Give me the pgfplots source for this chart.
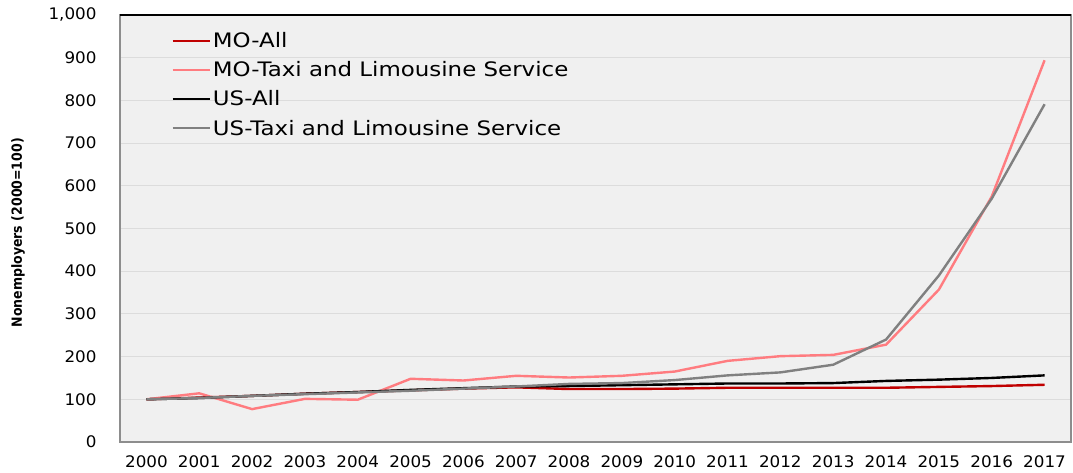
\documentclass[border=0pt]{standalone}
\usepackage{pgfplots}
\pgfplotsset{compat=1.18}
\usepackage{fontspec}
\setmainfont{DejaVu Sans}
\newfontfamily\widefont[FakeStretch=1.15]{DejaVu Sans}
\newfontfamily\tickfont[FakeStretch=1.05]{DejaVu Sans}
\newfontfamily\condfont{DejaVu Sans Condensed}
\definecolor{moall}{HTML}{C00000}
\definecolor{motaxi}{HTML}{FF7C80}
\definecolor{ustaxi}{HTML}{808080}
\definecolor{plotbg}{HTML}{F0F0F0}
\definecolor{gridc}{HTML}{DCDCDC}
\begin{document}
\begin{tikzpicture}[x=1bp,y=1bp]
\useasboundingbox (-120,-31) rectangle (953,442);
\begin{axis}[
  at={(0,0)}, anchor=south west,
  scale only axis,
  width=951bp, height=427bp,
  xmin=1999.5, xmax=2017.5,
  ymin=0, ymax=1000,
  xtick={2000,...,2017},
  ytick={0,100,...,1000},
  /pgf/number format/assume math mode=true,
  x tick label style={/pgf/number format/1000 sep={}, font=\tickfont\fontsize{16}{18}\selectfont, yshift=-10bp},
  y tick label style={/pgf/number format/1000 sep={,}, font=\tickfont\fontsize{16}{18}\selectfont, xshift=-20bp},
  major tick length=0pt,
  ymajorgrids,
  grid style={gridc, line width=1pt},
  axis background/.style={fill=plotbg},
  axis line style={ustaxi!90, line width=1.2pt},
  ylabel={\condfont\bfseries Nonemployers (2000=100)},
  every axis y label/.style={at={(rel axis cs:0,0.49)}, xshift=-102bp, rotate=90, anchor=center, font=\fontsize{14}{16}\selectfont},
  legend style={draw=none, fill=none, inner sep=0pt, at={(rel axis cs:0.054,0.964)}, anchor=north west,
    font=\widefont\fontsize{20}{22}\selectfont, row sep=8.5bp},
  legend cell align=left,
  legend image code/.code={\draw[#1, line width=2.4bp] (0bp,0bp) -- (33bp,0bp); \path (0bp,0bp) -- (37bp,0bp);},
  clip=false,
]
\addplot[moall, line width=2.4bp] coordinates {
(2000,100) (2001,104) (2002,108) (2003,113) (2004,117) (2005,121) (2006,125) (2007,128) (2008,124) (2009,124) (2010,125) (2011,127) (2012,127) (2013,127) (2014,127) (2015,129) (2016,131) (2017,134)};
\addlegendentry{MO-All}
\addplot[motaxi, line width=2.4bp] coordinates {
(2000,100) (2001,114) (2002,77) (2003,101) (2004,99) (2005,148) (2006,144) (2007,155) (2008,151) (2009,155) (2010,165) (2011,190) (2012,201) (2013,204) (2014,228) (2015,357) (2016,575) (2017,894)};
\addlegendentry{MO-Taxi and Limousine Service}
\addplot[black, line width=2.4bp] coordinates {
(2000,100) (2001,103) (2002,108) (2003,113) (2004,117) (2005,122) (2006,126) (2007,130) (2008,131) (2009,133) (2010,135) (2011,137) (2012,137) (2013,138) (2014,143) (2015,146) (2016,150) (2017,156)};
\addlegendentry{US-All}
\addplot[ustaxi, line width=2.4bp] coordinates {
(2000,100) (2001,103) (2002,108) (2003,112) (2004,116) (2005,120) (2006,125) (2007,130) (2008,136) (2009,138) (2010,145) (2011,156) (2012,163) (2013,181) (2014,240) (2015,390) (2016,570) (2017,791)};
\addlegendentry{US-Taxi and Limousine Service}
\draw[black, line width=1.2pt] (rel axis cs:0,1) -- (rel axis cs:1,1);
\end{axis}
\end{tikzpicture}
\end{document}
